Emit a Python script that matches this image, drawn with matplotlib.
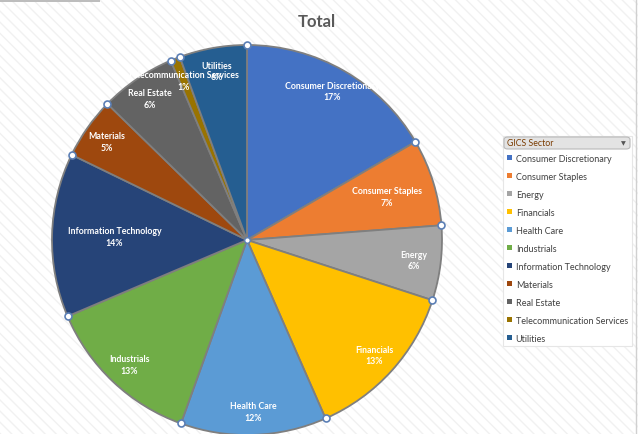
import numpy as np
import matplotlib.pyplot as plt
from matplotlib.patches import Rectangle, FancyBboxPatch

sectors = ['Consumer Discretionary', 'Consumer Staples', 'Energy', 'Financials',
           'Health Care', 'Industrials', 'Information Technology', 'Materials',
           'Real Estate', 'Telecommunication Services', 'Utilities']
shares = [16.6, 7.2, 6.2, 13.4, 12.1, 13.1, 13.6, 5.1, 6.3, 0.8, 5.6]
colors = ['#4472C4', '#ED7D31', '#A5A5A5', '#FFC000', '#5B9BD5', '#70AD47',
          '#264478', '#9E480E', '#636363', '#997300', '#255E91']

W, H = 638, 435
fig = plt.figure(figsize=(W / 100, H / 100), dpi=100)
fig.patch.set_facecolor('white')

# faint diagonal background like the excel sheet
bg = fig.add_axes([0, 0, 1, 1], zorder=-5)
bg.add_patch(Rectangle((0, 0), 1, 1, facecolor='white', edgecolor='#f1f1f1',
                       hatch='\\\\\\', linewidth=0))
bg.add_patch(Rectangle((0, 0.993), 100 / W, 0.007, facecolor='#bdbdbd', linewidth=0))
bg.plot([636 / W, 636 / W], [0, 1], color='#d0d0d0', lw=1)
bg.set_xlim(0, 1)
bg.set_ylim(0, 1)
bg.axis('off')

cx, cy, r = 247, 241, 195
ax = fig.add_axes([(cx - r) / W, (H - cy - r) / H, 2 * r / W, 2 * r / H])
wedges, _ = ax.pie(shares, colors=colors, startangle=90, counterclock=False,
                   radius=1, wedgeprops=dict(edgecolor='#7f7f7f', linewidth=1.3))
ax.set_xlim(-1, 1)
ax.set_ylim(-1, 1)
ax.axis('off')

total = sum(shares)
labels = []
for w, name, v in zip(wedges, sectors, shares):
    mid = np.deg2rad((w.theta1 + w.theta2) / 2)
    d = 0.88
    t = ax.text(d * np.cos(mid), d * np.sin(mid), f'{name}\n{v / total * 100:.0f}%',
                ha='center', va='center', color='white', fontsize=6.3,
                fontweight='bold', family='Lato', linespacing=1.35, clip_on=False)
    labels.append((t, mid))
    # selection handles
    a = np.deg2rad(w.theta1)
    ax.plot(np.cos(a), np.sin(a), 'o', ms=5, mfc='white', mec='#5b7fb5',
            mew=1.2, clip_on=False, zorder=5)
ax.plot(0, 0, 'o', ms=4, mfc='white', mec='#5b7fb5', mew=1, zorder=5)

# best fit: labels on the sides are pulled in so they stay inside the rim
fig.canvas.draw()
rend = fig.canvas.get_renderer()
inv = ax.transData.inverted()
for t, mid in labels:
    if abs(np.cos(mid)) < np.cos(np.deg2rad(30)):
        continue
    d = 0.88
    while d > 0.4:
        t.set_position((d * np.cos(mid), d * np.sin(mid)))
        bb = t.get_window_extent(rend).transformed(inv)
        ym = (bb.y0 + bb.y1) / 2
        if max(np.hypot(bb.x0, ym), np.hypot(bb.x1, ym)) <= 0.93:
            break
        d -= 0.01

fig.text(317 / W, 1 - 22 / H, 'Total', ha='center', va='center', fontsize=12,
         fontweight='bold', color='#595959', family='Lato')

# legend box with field button
bg.add_patch(Rectangle((503 / W, 1 - 347 / H), 129 / W, 210 / H, facecolor='white',
                       edgecolor='#e6e6e6', linewidth=0.8))
bg.add_patch(FancyBboxPatch((504 / W, 1 - 150 / H), 126 / W, 12 / H,
                            boxstyle='round,pad=0,rounding_size=0.006',
                            facecolor='#e3e3e3', edgecolor='#b8b8b8', linewidth=0.8))
bg.text(507 / W, 1 - 144 / H, 'GICS Sector', fontsize=6.3, color='#7a3b00',
        va='center', family='Lato')
bg.text(623 / W, 1 - 144 / H, '\u25BC', fontsize=4.5, color='#555555',
        va='center', ha='center')

proxies = [Rectangle((0, 0), 1, 1, facecolor=w.get_facecolor(), edgecolor='none')
           for w in wedges]
leg = fig.legend(proxies, sectors, loc='upper left',
                 bbox_to_anchor=(503 / W, 1 - 151 / H), frameon=False,
                 fontsize=6.5, handlelength=0.55, handleheight=0.55,
                 handletextpad=0.45, labelspacing=1.0, borderpad=0.4,
                 borderaxespad=0)
for t in leg.get_texts():
    t.set_color('#404040')
    t.set_family('Lato')

fig.savefig('out.png', dpi=100)
